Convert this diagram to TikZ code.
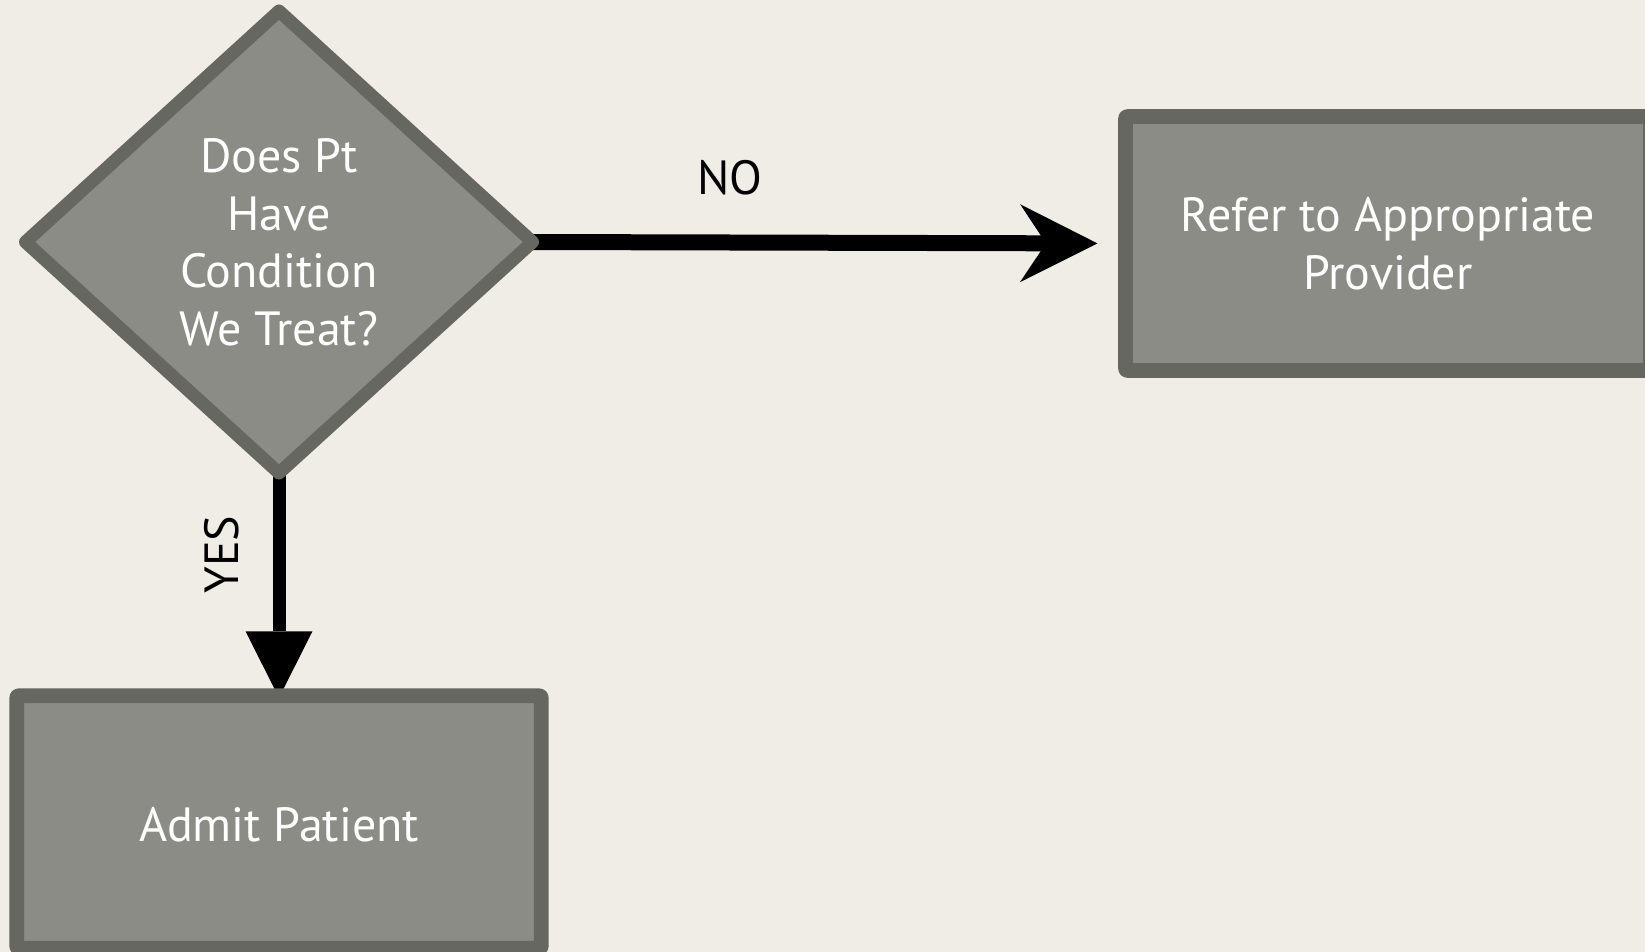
\documentclass[tikz,border=0pt]{standalone}
\usepackage{fontspec}
\setmainfont{PT Sans}
\usetikzlibrary{shapes.geometric,arrows.meta,backgrounds}
\definecolor{bgc}{RGB}{239,237,229}
\definecolor{boxfill}{RGB}{139,140,133}
\definecolor{boxline}{RGB}{102,103,97}
\begin{document}
\begin{tikzpicture}[x=1pt,y=-1pt,
  shapebox/.style={draw=boxline, fill=boxfill, line width=14.7pt, line join=round, text=white, align=center, font=\fontsize{48}{57.7}\selectfont, outer sep=0pt, inner sep=0pt},
  decision/.style={shapebox, diamond, minimum width=507pt, minimum height=462pt, line width=13pt},
  procbox/.style={shapebox, rectangle, rounded corners=2pt},
  flow/.style={line width=16pt, draw=black},
  lbl/.style={font=\fontsize{48}{57.7}\selectfont, text=black, inner sep=0pt}
]
\useasboundingbox (0,0) rectangle (1645,952);
\clip (0,0) rectangle (1645,952);
\node[decision] (q) at (279,242) {\raisebox{-5.5pt}[\height][\depth]{\begin{tabular}{@{}c@{}}Does Pt\\Have\\Condition\\We Treat?\end{tabular}}};
\node[procbox, minimum width=525pt, minimum height=254pt] (refer) at (1388,243.5) {\raisebox{-5.5pt}[\height][\depth]{\begin{tabular}{@{}c@{}}Refer to Appropriate\\Provider\end{tabular}}};
\node[procbox, minimum width=524.6pt, minimum height=252.5pt] (admit) at (279,822) {\raisebox{-3pt}[\height][\depth]{Admit Patient}};
\begin{scope}[on background layer]
  \fill[bgc] (0,0) rectangle (1645,952);
  \draw[flow, -{Stealth[length=77.5pt,width=78pt,inset=26pt,line width=0pt]}, shorten >=28pt]
    (q.east) -- (refer.west) node[lbl, pos=0.333, yshift=65pt] (no) {NO};
  \draw[flow, line width=13pt, -{Triangle[length=66.5pt,width=67pt,line width=0pt]}, shorten >=-2pt]
    (q.south) -- (admit.north) node[lbl, pos=0.366, xshift=-57pt, rotate=90] (yes) {YES};
\end{scope}
\end{tikzpicture}
\end{document}
